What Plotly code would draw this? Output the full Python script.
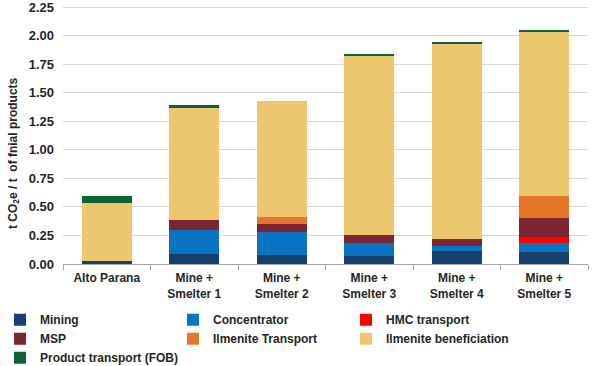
import plotly.graph_objects as go

categories = ["Alto Parana", "Mine +<br>Smelter 1", "Mine +<br>Smelter 2",
              "Mine +<br>Smelter 3", "Mine +<br>Smelter 4", "Mine +<br>Smelter 5"]

mining = [0.03, 0.09, 0.08, 0.07, 0.115, 0.105]
concentrator = [0.0, 0.21, 0.20, 0.11, 0.04, 0.075]
hmc_transport = [0.0, 0.0, 0.0, 0.0, 0.0, 0.055]
msp = [0.0, 0.085, 0.07, 0.07, 0.06, 0.17]
ilmenite_transport = [0.0, 0.0, 0.065, 0.0, 0.0, 0.195]
ilmenite_beneficiation = [0.505, 0.98, 1.01, 1.58, 1.715, 1.435]
product_transport = [0.057, 0.03, 0.0, 0.012, 0.012, 0.014]
y_ticks = [0, 0.25, 0.5, 0.75, 1.0, 1.25, 1.5, 1.75, 2.0, 2.25]
y_title = "t CO<sub>2</sub>e / t  of fnial products"

series = [
    ("Mining", mining, "#17406D"),
    ("Concentrator", concentrator, "#0A74C4"),
    ("HMC transport", hmc_transport, "#FF0000"),
    ("MSP", msp, "#7B2631"),
    ("Ilmenite Transport", ilmenite_transport, "#E6762A"),
    ("Ilmenite beneficiation", ilmenite_beneficiation, "#EDC770"),
    ("Product transport (FOB)", product_transport, "#0D6432"),
]

fig = go.Figure()
for name, vals, color in series:
    fig.add_trace(go.Bar(x=categories, y=vals, name=name, marker_color=color,
                         marker_line_width=0))

FAM = "Liberation Sans, Arial, sans-serif"
TXT = "#262626"

fig.update_layout(
    barmode="stack",
    bargap=0.43,
    width=593, height=366,
    margin=dict(l=63, r=5, t=6, b=102, autoexpand=False),
    plot_bgcolor="white", paper_bgcolor="white",
    font=dict(family=FAM, size=12, color=TXT),
    showlegend=True,
    legend=dict(
        orientation="h", xref="container", yref="container",
        x=-0.0066, y=0.166, xanchor="left", yanchor="top",
        entrywidth=128, itemwidth=30, traceorder="normal",
        font=dict(family=FAM, size=12, color=TXT, weight="bold"),
        tracegroupgap=0,
    ),
)
fig.add_annotation(
    text=y_title, textangle=-90, xref="paper", yref="paper",
    x=0, y=0.43, xshift=-49, xanchor="center", yanchor="middle",
    showarrow=False, font=dict(family=FAM, size=12, color=TXT, weight="bold"),
)
fig.update_yaxes(
    range=[0, 2.26], tickvals=y_ticks,
    tickformat=".2f", showgrid=True, gridcolor="#D9D9D9", gridwidth=1,
    zeroline=False, showline=False, ticks="", ticklabelstandoff=8,
    automargin=False, ticklabeloverflow="allow",
    tickfont=dict(family=FAM, size=13, color=TXT, weight="bold"),
)
fig.update_xaxes(
    showline=True, linecolor="#A6A6A6", linewidth=1, automargin=False,
    ticks="outside", tickson="boundaries", ticklen=5, tickcolor="#A6A6A6",
    ticklabelstandoff=3,
    tickfont=dict(family=FAM, size=12, color=TXT, weight="bold"),
)

fig.write_html("out.html", config={"displayModeBar": False},
               post_script="document.body.style.margin='0';")
